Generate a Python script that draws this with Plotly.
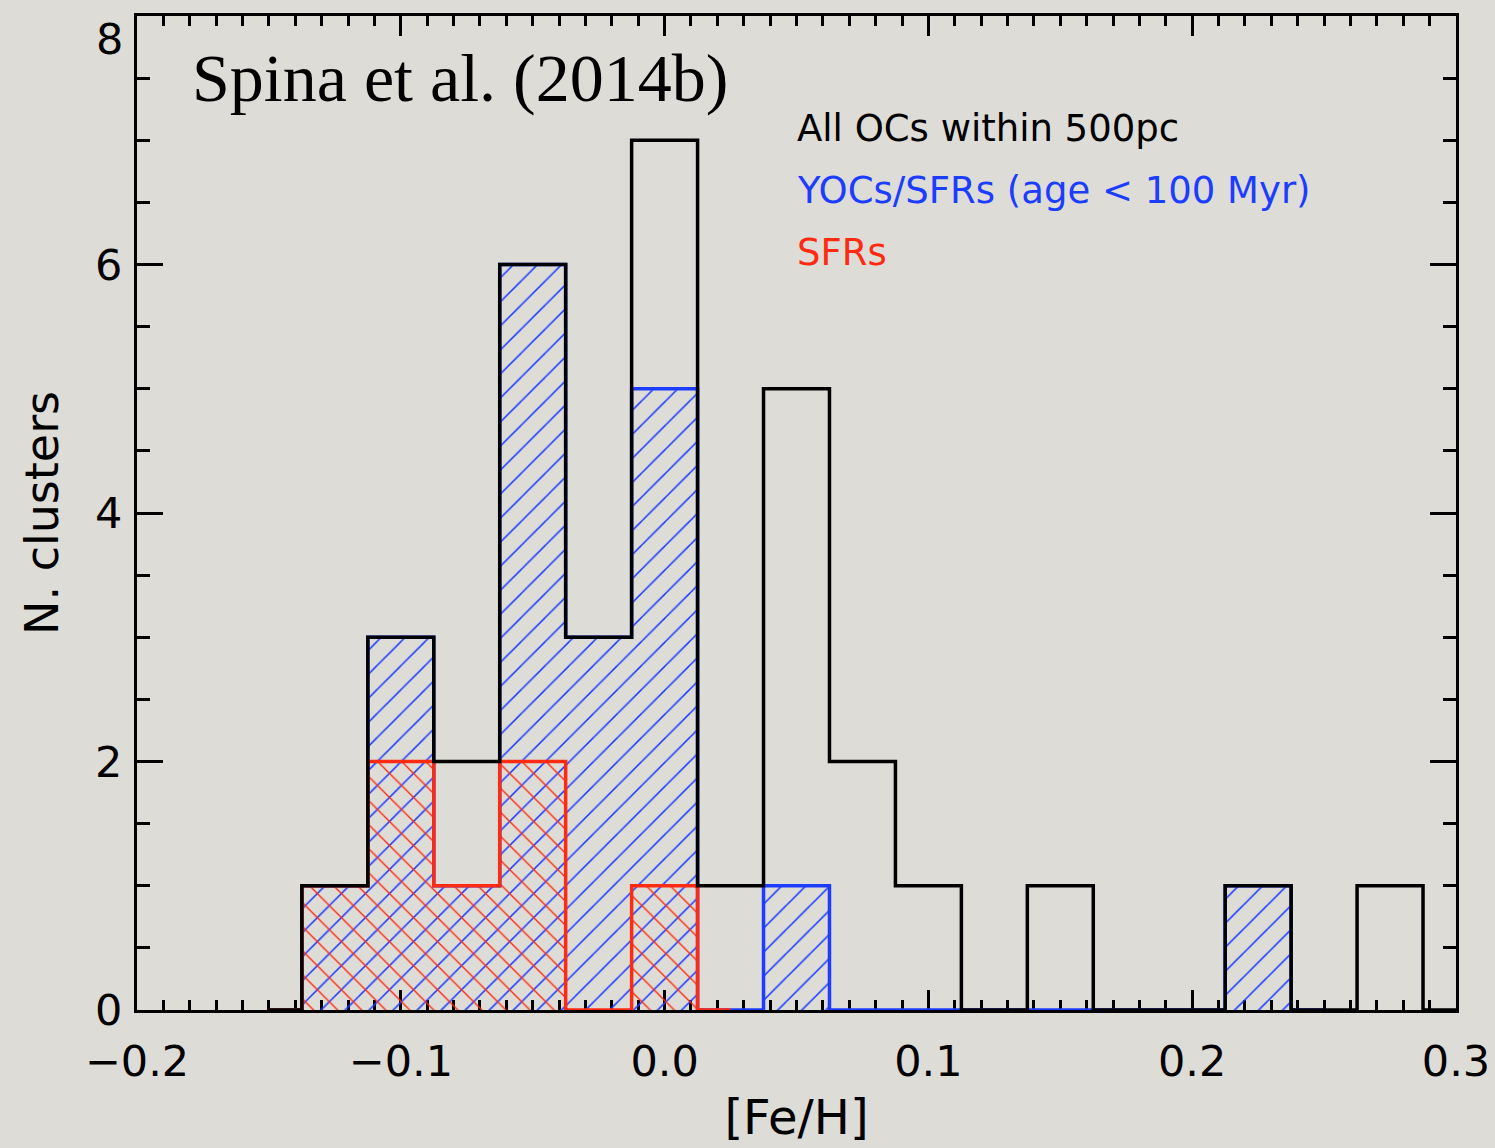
import plotly.graph_objects as go

# [Fe/H] bin centres (bin width 0.025 dex)
bin_centers = [-0.150, -0.125, -0.100, -0.075, -0.050, -0.025, 0.000, 0.025,
               0.050, 0.075, 0.100, 0.125, 0.150, 0.175, 0.200, 0.225,
               0.250, 0.275, 0.300]
bin_width = 0.025

# Cluster counts per bin
n_all_ocs = [0, 1, 3, 2, 6, 3, 7, 1, 5, 2, 1, 0, 1, 0, 0, 1, 0, 1, 0]
n_young = [0, 1, 3, 1, 6, 3, 5, 0, 1, 0, 0, 0, 0, 0, 0, 1, 0]
n_sfr = [0, 1, 2, 1, 2, 0, 1, 0]

# y-axis major ticks
y_ticks = [0, 2, 4, 6, 8]

labels = ["All OCs within 500pc", "YOCs/SFRs (age < 100 Myr)", "SFRs"]
reference_label = "Spina et al. (2014b)"

BLACK = "#000000"
BLUE = "#1c3cff"
RED = "#ff2a12"
PAPER = "#dedcd6"

fig = go.Figure()

# hatched fills
fig.add_trace(go.Bar(
    x=bin_centers[:len(n_young)], y=n_young, width=bin_width,
    marker=dict(color="rgba(0,0,0,0)", line=dict(width=0),
                pattern=dict(shape="/", fgcolor=BLUE, bgcolor="rgba(0,0,0,0)",
                             size=17, solidity=0.09, fillmode="replace")),
    showlegend=False, hoverinfo="skip"))
fig.add_trace(go.Bar(
    x=bin_centers[:len(n_sfr)], y=n_sfr, width=bin_width,
    marker=dict(color="rgba(0,0,0,0)", line=dict(width=0),
                pattern=dict(shape="\\", fgcolor=RED, bgcolor="rgba(0,0,0,0)",
                             size=17, solidity=0.08, fillmode="replace")),
    showlegend=False, hoverinfo="skip"))

# histogram outlines (steps centred on the bins)
for counts, color in [(n_young, BLUE), (n_sfr, RED), (n_all_ocs, BLACK)]:
    fig.add_trace(go.Scatter(
        x=bin_centers[:len(counts)], y=counts, mode="lines",
        line=dict(shape="hvh", color=color, width=3.5),
        cliponaxis=False, showlegend=False, hoverinfo="skip"))

fig.add_annotation(
    x=0.040, y=0.9376, xref="paper", yref="paper", xanchor="left", yanchor="middle",
    text=reference_label, showarrow=False,
    font=dict(family="Liberation Serif", size=68, color=BLACK))

for txt, color, ypos in zip(labels, [BLACK, BLUE, RED], [0.8873, 0.8249, 0.7616]):
    fig.add_annotation(
        x=0.4992, y=ypos, xref="paper", yref="paper", xanchor="left", yanchor="middle",
        text=txt, showarrow=False,
        font=dict(family="DejaVu Sans", size=37, color=color))

axis_font = dict(family="DejaVu Sans", size=43, color=BLACK)

# the top y label sits just below its tick so it stays inside the page
fig.add_annotation(
    x=0, y=y_ticks[-1], xref="paper", yref="y", xanchor="right", yanchor="top",
    xshift=-12, yshift=4, text=str(y_ticks[-1]), showarrow=False, font=axis_font)

fig.update_layout(
    width=1495, height=1148,
    margin=dict(l=137, r=39, t=16, b=138),
    paper_bgcolor=PAPER, plot_bgcolor=PAPER,
    barmode="overlay", bargap=0,
    xaxis=dict(
        range=[-0.2, 0.3], showgrid=False, zeroline=False, automargin=False,
        showline=True, linecolor=BLACK, linewidth=3, mirror="ticks",
        ticks="inside", ticklen=20, tickwidth=3, tickcolor=BLACK,
        tick0=-0.2, dtick=0.1, tickformat=".1f", tickfont=axis_font,
        ticklabelstandoff=11, ticklabeloverflow="allow",
        minor=dict(ticks="inside", ticklen=10, tickwidth=3, tickcolor=BLACK, dtick=0.01),
        title=dict(text="[Fe/H]", font=dict(family="DejaVu Sans", size=48, color=BLACK),
                   standoff=16),
        layer="below traces"),
    yaxis=dict(
        range=[0, 8], showgrid=False, zeroline=False, automargin=False,
        showline=True, linecolor=BLACK, linewidth=3, mirror="ticks",
        ticks="inside", ticklen=26, tickwidth=3, tickcolor=BLACK,
        tickvals=y_ticks, ticktext=[str(v) for v in y_ticks[:-1]] + [""],
        tickfont=axis_font, ticklabelstandoff=3,
        ticklabeloverflow="allow",
        minor=dict(ticks="inside", ticklen=13, tickwidth=3, tickcolor=BLACK, dtick=0.5),
        title=dict(text="N. clusters", font=dict(family="DejaVu Sans", size=46, color=BLACK),
                   standoff=22),
        layer="below traces"),
)

fig.write_html("out.html")
